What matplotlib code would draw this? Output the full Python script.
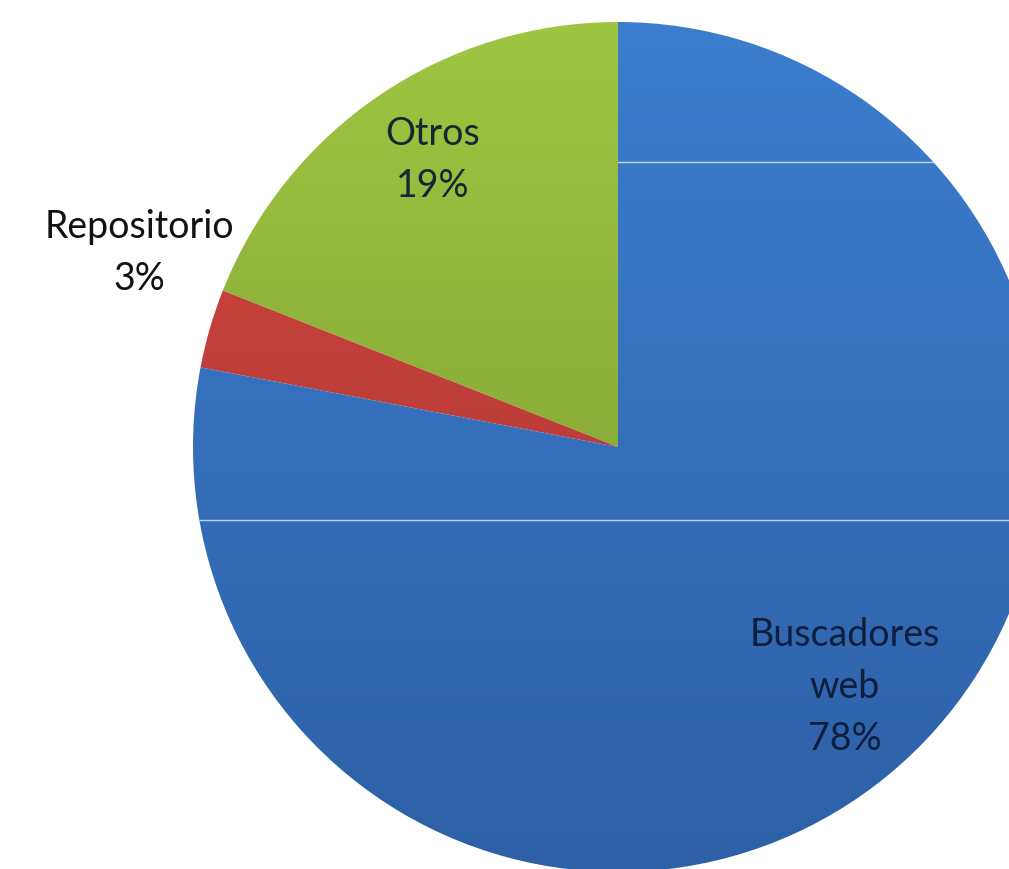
import numpy as np
import matplotlib.pyplot as plt
from matplotlib.colors import LinearSegmentedColormap

# data (counter-clockwise from 12 o'clock)
labels = ['Otros', 'Repositorio', 'Buscadores\nweb']
values = [19, 3, 78]
pcts = ['19%', '3%', '78%']
grad_colors = [('#9fc643', '#76942f'), ('#d44841', '#a2312f'), ('#3c7dce', '#2d60a6')]

H = 869
cx, cy, r = 618, H - 447, 425

fig = plt.figure(figsize=(10.09, 8.69), dpi=100)
ax = fig.add_axes([0, 0, 1, 1])

wedges, _ = ax.pie(values, startangle=90, counterclock=True, center=(cx, cy),
                   radius=r, colors=['none'] * 3, frame=True)

# vertical gradient fill, clipped to each wedge
grad = np.linspace(0, 1, 256).reshape(-1, 1)
for w, (c_top, c_bot) in zip(wedges, grad_colors):
    cmap = LinearSegmentedColormap.from_list('g', [c_top, c_bot])
    im = ax.imshow(grad, cmap=cmap, aspect='auto', zorder=1,
                   extent=(cx - r, cx + r, cy - r, cy + r), origin='upper')
    im.set_clip_path(w)

# faint scan lines seen in the original
for yy, x0 in [(H - 162, cx), (H - 520, cx - r)]:
    ln, = ax.plot([x0, 1009], [yy, yy], color='white', lw=1, alpha=0.7, zorder=2)
    ln.set_clip_path(wedges[2])

ax.set_xlim(0, 1009)
ax.set_ylim(0, H)
ax.set_aspect('equal')
ax.axis('off')

font = dict(family=['Lato', 'DejaVu Sans'], fontsize=27, ha='center', va='center',
            linespacing=1.55)
ax.text(433, H - 160, labels[0] + '\n' + pcts[0], color='#1b2430', **font)
ax.text(139, H - 253, labels[1] + '\n' + pcts[1], color='#111111', **font)
ax.text(845, H - 687, labels[2] + '\n' + pcts[2], color='#0e1f3d', **font)

fig.savefig('out.png', dpi=100)
